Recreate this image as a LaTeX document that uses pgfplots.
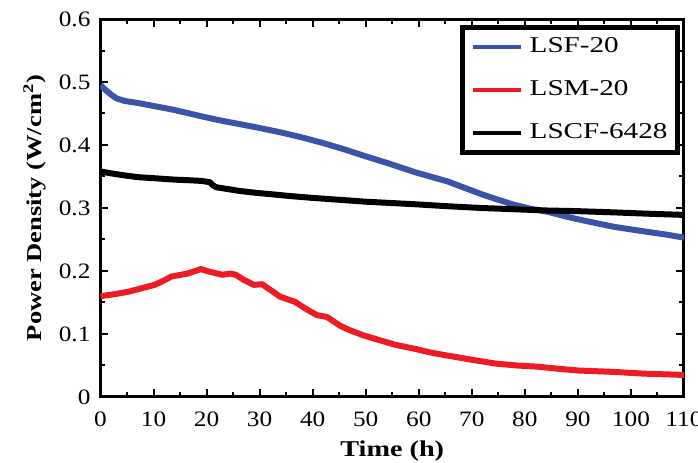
\documentclass[border=0pt]{standalone}
\usepackage{fontspec}
\setmainfont[FakeStretch=1.25]{Liberation Serif}
\newfontfamily\tickfont[FakeStretch=1.15]{Liberation Serif}
\newfontfamily\legfont[FakeStretch=1.29]{Liberation Serif}
\usepackage{pgfplots}
\pgfplotsset{compat=1.18}

\definecolor{lsfblue}{RGB}{59,84,168}
\definecolor{lsmred}{RGB}{237,28,36}

\begin{document}
\begin{tikzpicture}
\begin{axis}[
    scale only axis,
    width=291.75pt, height=189pt,
    xmin=0, xmax=110, ymin=0, ymax=0.6,
    xtick={0,10,20,30,40,50,60,70,80,90,100,110},
    ytick={0,0.1,0.2,0.3,0.4,0.5,0.6},
    minor x tick num=1, minor y tick num=1,
    tick align=inside,
    major tick length=4pt, minor tick length=2.5pt,
    every tick/.style={black, line width=1pt},
    axis line style={line width=1.5pt},
    /pgf/number format/assume math mode=true,
    yticklabel style={/pgf/number format/fixed, /pgf/number format/precision=1, xshift=-1.5pt},
    xticklabel style={yshift=-4pt},
    tick label style={font=\tickfont\fontsize{11}{13}\selectfont},
    xlabel={Time (h)},
    ylabel={Power Density (W/cm\textsuperscript{2})},
    xlabel style={font=\bfseries\fontsize{11.3}{13}\selectfont,
        at={(rel axis cs:0.5,0)}, anchor=base, yshift=-30pt},
    ylabel style={font=\bfseries\fontsize{10.6}{12}\selectfont,
        at={(rel axis cs:0,0.5)}, anchor=center, yshift=33pt},
    legend style={at={(rel axis cs:0.993,0.984)}, anchor=north east,
        draw=black, line width=2.5pt, font=\legfont\fontsize{11.3}{13}\selectfont,
        inner xsep=4pt, inner ysep=3pt, row sep=8pt, column sep=2.5pt,
        nodes={inner sep=1pt, text height=8.5pt, text depth=3pt}},
    legend cell align=left,
    legend image code/.code={\draw[#1, line width=2pt] (0pt,0pt) -- (24pt,0pt);},
]
\addplot[color=lsfblue, line width=3pt, line join=round] coordinates {
(0,0.495)(1,0.487)(2,0.480)(3,0.474)(4.5,0.470)(7.5,0.466)(10,0.462)(13.7,0.456)
(18.8,0.446)(22,0.440)(26.3,0.433)(30,0.427)(34,0.420)(38,0.412)(42,0.403)(46,0.393)
(50,0.382)(54.6,0.370)(59.2,0.357)(63,0.348)(65.5,0.342)(68,0.334)(71.8,0.322)(75,0.313)
(78,0.305)(81,0.299)(84.3,0.294)(87.5,0.287)(90.6,0.281)(94,0.275)(96.9,0.270)(100,0.266)
(103.2,0.262)(106.5,0.258)(110,0.253)
};
\addlegendentry{LSF-20}
\addplot[color=lsmred, line width=3pt, line join=round] coordinates {
(0,0.160)(2.5,0.163)(5.2,0.167)(7.5,0.172)(10.2,0.178)(12,0.185)(13.3,0.191)(16.4,0.196)
(18.9,0.203)(20.5,0.199)(23,0.194)(24.5,0.196)(25.5,0.194)(27,0.186)(28.9,0.178)(30.5,0.179)
(31.5,0.173)(33.9,0.159)(36.7,0.151)(38.5,0.141)(40.8,0.130)(42.7,0.127)(45.2,0.113)(47,0.106)
(49.5,0.098)(52.7,0.090)(55.5,0.083)(59.5,0.076)(62,0.071)(65.2,0.066)(70.1,0.059)(74.5,0.053)
(78.5,0.050)(82.6,0.048)(86,0.045)(90.1,0.042)(96.3,0.040)(102.6,0.037)(110,0.035)
};
\addlegendentry{LSM-20}
\addplot[color=black, line width=3pt, line join=round] coordinates {
(0,0.358)(2,0.355)(4.3,0.352)(7,0.349)(10.6,0.347)(14,0.345)(16.9,0.344)(19,0.343)
(20.6,0.341)(21.2,0.336)(21.8,0.333)(24,0.330)(26.3,0.327)(29.4,0.324)(32,0.322)(35.7,0.319)
(40,0.316)(45.1,0.313)(50,0.310)(54.6,0.308)(59.2,0.306)(65,0.303)(71.8,0.300)(78,0.298)
(84.3,0.296)(90,0.295)(96.9,0.293)(103,0.291)(110,0.289)
};
\addlegendentry{LSCF-6428}
\coordinate (sw) at (rel axis cs:0,0);
\coordinate (ne) at (rel axis cs:1,1);
\end{axis}
\pgfresetboundingbox
\path[use as bounding box] ([shift={(-50.25pt,-33pt)}]sw) rectangle ([shift={(7pt,9.5pt)}]ne);
\end{tikzpicture}
\end{document}
